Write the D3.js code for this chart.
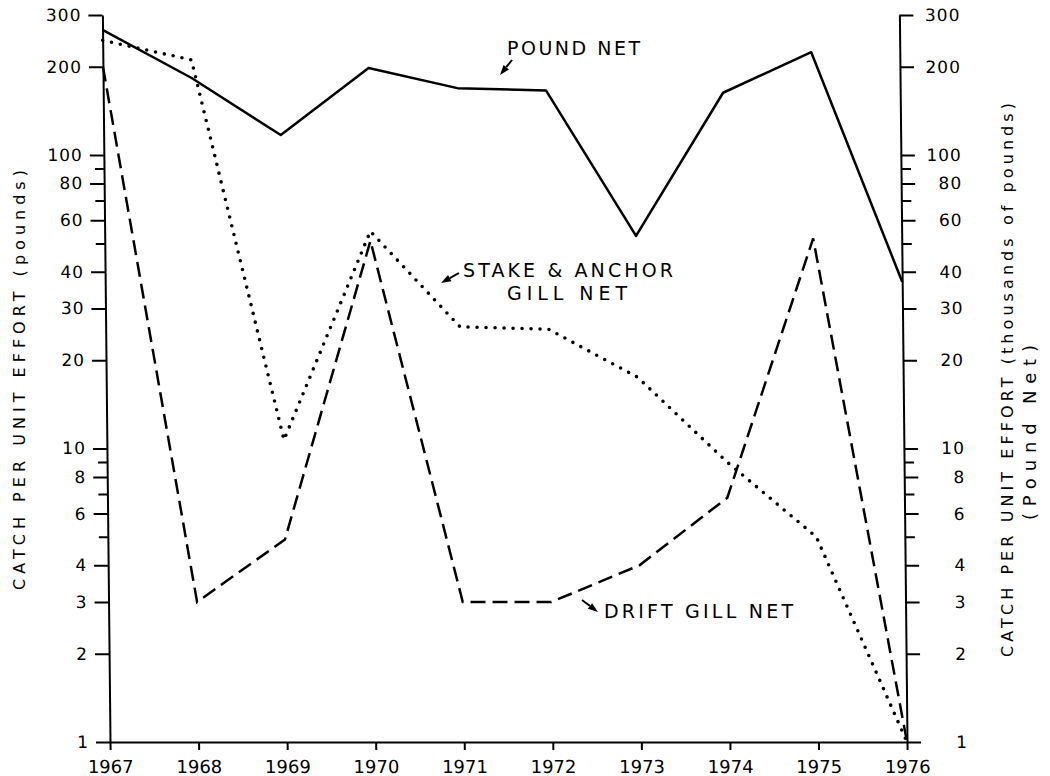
<!DOCTYPE html>
<html>
<head>
<meta charset="utf-8">
<script src="https://cdn.jsdelivr.net/npm/d3@7"></script>
<style>
  body { margin: 0; background: #fff; }
  svg { display: block; }
  svg text { font-family: "DejaVu Sans", sans-serif; fill: #000; }
  .axis path, .axis line { stroke: #000; stroke-width: 2; }
</style>
</head>
<body>
<svg id="chart" width="1050" height="776"></svg>
<script>
// catch per unit effort by year
var years = [1967, 1968, 1969, 1970, 1971, 1972, 1973, 1974, 1975, 1976];
var poundNet = [267, 183, 117, 198, 169, 166, 53, 163, 224, 37];
var stakeAnchor = [246, 211, 10.7, 55, 26, 25.5, 17.5, 9, 5, 1];
var driftGill = [200, 3, 4.9, 51, 3, 3, 4, 6.8, 52, 1];

var yTicks = [1, 2, 3, 4, 5, 6, 7, 8, 9, 10, 20, 30, 40, 50, 60, 70, 80, 90, 100, 200, 300];
var yLabels = [1, 2, 3, 4, 6, 8, 10, 20, 30, 40, 60, 80, 100, 200, 300];

var svg = d3.select("#chart");

var x = d3.scaleLinear().domain([1967, 1976]).range([110, 907]);
var y = d3.scaleLog().domain([1, 300]).range([742, 15]);

// the scanned drawing leans a little to the left at the top
var g = svg.append("g")
    .attr("transform", "translate(0,742) skewX(0.6) translate(0,-742)");

function fmt(d) { return yLabels.indexOf(d) >= 0 ? d : ""; }

var left = g.append("g")
    .attr("class", "axis")
    .attr("transform", "translate(" + x(1967) + ",0)")
    .call(d3.axisLeft(y).tickValues(yTicks).tickFormat(fmt)
        .tickSizeInner(14).tickSizeOuter(0).tickPadding(7));

var right = g.append("g")
    .attr("class", "axis")
    .attr("transform", "translate(" + x(1976) + ",0)")
    .call(d3.axisRight(y).tickValues(yTicks).tickFormat(fmt)
        .tickSizeInner(14).tickSizeOuter(0));

[left, right].forEach(function(ax, i) {
    ax.selectAll(".tick")
        .filter(function(d) { return yLabels.indexOf(d) < 0; })
        .select("line")
        .attr("x2", i == 0 ? -9 : 10);
    ax.selectAll("text")
        .style("font-family", "'DejaVu Sans'")
        .style("font-size", "17px")
        .style("letter-spacing", "1px");
});
right.selectAll("text")
    .attr("text-anchor", "end")
    .attr("x", 61);

var bottom = g.append("g")
    .attr("class", "axis")
    .attr("transform", "translate(0," + y(1) + ")")
    .call(d3.axisBottom(x).tickValues(years).tickFormat(d3.format("d"))
        .tickSizeInner(8).tickSizeOuter(0));
bottom.selectAll("text")
    .attr("y", 31)
    .attr("dy", 0)
    .style("font-family", "'DejaVu Sans'")
    .style("font-size", "18px");

var line = d3.line()
    .x(function(d) { return x(d[0]); })
    .y(function(d) { return y(d[1]); });

function series(vals) { return years.map(function(yr, i) { return [yr, vals[i]]; }); }

g.append("path")
    .datum(series(poundNet))
    .attr("d", line)
    .attr("fill", "none")
    .attr("stroke", "#000")
    .attr("stroke-width", 2.5)
    .attr("stroke-linejoin", "round");

g.append("path")
    .datum(series(driftGill))
    .attr("d", line)
    .attr("fill", "none")
    .attr("stroke", "#000")
    .attr("stroke-width", 2.5)
    .attr("stroke-dasharray", "15 7");

g.append("path")
    .datum(series(stakeAnchor))
    .attr("d", line)
    .attr("fill", "none")
    .attr("stroke", "#000")
    .attr("stroke-width", 3.6)
    .attr("stroke-linecap", "round")
    .attr("stroke-dasharray", "0 9");

// series labels with little pointer arrows
var notes = [
    {text: "POUND NET", x: 507, y: 55, len: 133, arrow: [512, 60, 500, 75]},
    {text: "STAKE & ANCHOR", x: 463, y: 277, len: 210, arrow: [459, 273, 441, 283]},
    {text: "GILL NET", x: 507, y: 300, len: 120},
    {text: "DRIFT GILL NET", x: 604, y: 618, len: 189, arrow: [582, 600, 598, 612]}
];

notes.forEach(function(n) {
    svg.append("text")
        .attr("x", n.x)
        .attr("y", n.y)
        .attr("textLength", n.len)
        .attr("lengthAdjust", "spacing")
        .style("font-size", "19px")
        .text(n.text);
    if (n.arrow) {
        var a = n.arrow;
        var ang = Math.atan2(a[3] - a[1], a[2] - a[0]);
        var hl = 10, hw = 3.5;
        var bx = a[2] - hl * Math.cos(ang), by = a[3] - hl * Math.sin(ang);
        svg.append("line")
            .attr("x1", a[0]).attr("y1", a[1])
            .attr("x2", bx).attr("y2", by)
            .attr("stroke", "#000").attr("stroke-width", 2);
        svg.append("polygon")
            .attr("points", [
                [a[2], a[3]],
                [bx + hw * Math.sin(ang), by - hw * Math.cos(ang)],
                [bx - hw * Math.sin(ang), by + hw * Math.cos(ang)]
            ].map(function(p) { return p.join(","); }).join(" "))
            .attr("fill", "#000");
    }
});

// axis titles
svg.append("text")
    .attr("transform", "translate(25,590) rotate(-90)")
    .attr("textLength", 420)
    .attr("lengthAdjust", "spacing")
    .style("font-size", "16px")
    .text("CATCH PER UNIT EFFORT  (pounds)");

svg.append("text")
    .attr("transform", "translate(1013,657) rotate(-90)")
    .attr("textLength", 554)
    .attr("lengthAdjust", "spacing")
    .style("font-size", "16px")
    .text("CATCH PER UNIT EFFORT  (thousands of pounds)");

svg.append("text")
    .attr("transform", "translate(1036,520) rotate(-90)")
    .attr("textLength", 175)
    .attr("lengthAdjust", "spacing")
    .style("font-size", "18px")
    .text("(Pound Net)");
</script>
</body>
</html>
